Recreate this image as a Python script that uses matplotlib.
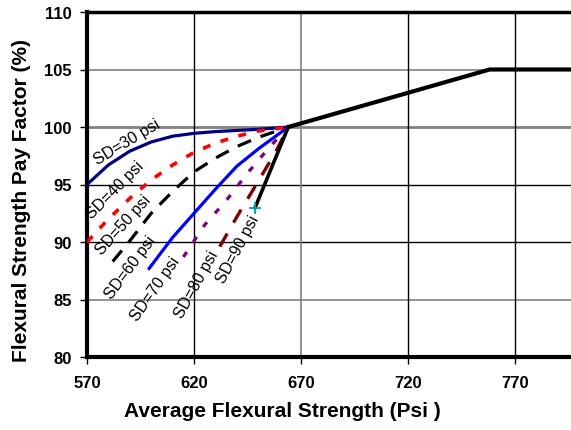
import matplotlib
matplotlib.use("Agg")
import matplotlib.pyplot as plt

plt.rcParams['font.family'] = ['Liberation Sans', 'DejaVu Sans']

# ---- data ----
sd30_x = [570, 580, 590, 600, 610, 620, 630, 640, 650, 664]
sd30_y = [95.0, 96.7, 97.9, 98.7, 99.2, 99.45, 99.6, 99.7, 99.8, 100.0]

sd40_x = [570, 580, 590, 600, 610, 620, 630, 640, 650, 664]
sd40_y = [90.0, 92.0, 93.8, 95.4, 96.7, 97.8, 98.6, 99.2, 99.65, 100.0]

sd50_x = [582, 590, 600, 610, 620, 630, 640, 650, 664]
sd50_y = [88.3, 90.1, 92.5, 94.4, 96.1, 97.3, 98.3, 99.1, 100.0]

sd60_x = [599, 610, 620, 630, 640, 650, 664]
sd60_y = [87.7, 90.4, 92.5, 94.6, 96.6, 98.1, 100.0]

sd70_x = [615, 625, 635, 645, 655, 664]
sd70_y = [88.7, 91.5, 93.6, 96.0, 98.2, 100.0]

sd80_x = [632, 640, 650, 658, 664]
sd80_y = [89.6, 92.2, 95.3, 97.8, 100.0]

sd90_x = [648.5, 664]
sd90_y = [93.0, 100.0]

main_x = [664, 758, 796]
main_y = [100.0, 105.0, 105.0]

x_ticks = [570, 620, 670, 720, 770]
y_ticks = [80, 85, 90, 95, 100, 105, 110]

sd_labels = ["SD=30 psi", "SD=40 psi", "SD=50 psi", "SD=60 psi", "SD=70 psi", "SD=80 psi", "SD=90 psi"]
label_x = [588.7, 583.1, 586.8, 590.1, 601.8, 620.9, 640.6]
label_y = [98.7, 94.6, 91.5, 87.8, 86.0, 86.4, 89.4]
label_rot = [31, 45, 48, 53, 55, 61, 62]

# ---- figure ----
fig = plt.figure(figsize=(5.71, 4.31), dpi=100)
ax = fig.add_axes([87/571, 1 - 358/431, 1 - 87/571, (358 - 13)/431])
ax.set_xlim(570, 796)
ax.set_ylim(80, 110)

# grid lines as in reference
h_grid = {85: ('#808080', 1.2), 90: ('black', 1.0), 95: ('black', 1.0), 100: ('#808080', 2.0), 105: ('#808080', 1.2)}
for yv, (c, lw) in h_grid.items():
    ax.axhline(yv, color=c, lw=lw, zorder=1)
v_grid = {620: ('black', 1.0), 670: ('#808080', 1.2), 720: ('black', 1.0), 770: ('black', 1.0)}
for xv, (c, lw) in v_grid.items():
    ax.axvline(xv, color=c, lw=lw, zorder=1)

ax.plot(sd30_x, sd30_y, color='#000080', lw=2.3, zorder=3)
ax.plot(sd40_x, sd40_y, color='#ff0000', lw=2.6, dashes=(2.2, 3.0), zorder=3)
ax.plot(sd50_x, sd50_y, color='black', lw=2.3, dashes=(4.5, 3.2), zorder=3)
ax.plot(sd60_x, sd60_y, color='#0000ff', lw=2.3, zorder=3)
ax.plot(sd70_x, sd70_y, color='#800080', lw=2.4, dashes=(1.8, 3.6), zorder=3)
ax.plot(sd80_x, sd80_y, color='#800000', lw=2.4, dashes=(4.5, 3.8), zorder=3)
ax.plot(sd90_x, sd90_y, color='black', lw=2.6, zorder=4)
ax.plot(sd90_x[:1], sd90_y[:1], marker='+', color='#00a0a0', ms=9, mew=1.3, ls='none', zorder=5)
ax.plot(main_x, main_y, color='black', lw=3, zorder=4, solid_capstyle='butt')

for t, xv, yv, r in zip(sd_labels, label_x, label_y, label_rot):
    ax.text(xv, yv, t, rotation=r, rotation_mode='anchor', ha='center', va='center',
            fontsize=11.5, zorder=6)

ax.set_xticks(x_ticks)
ax.set_yticks(y_ticks)
ax.set_xticklabels([str(v) for v in x_ticks], fontsize=12, fontweight='bold')
ax.set_yticklabels([str(v) for v in y_ticks], fontsize=12, fontweight='bold')
ax.tick_params(axis='both', direction='out', length=5, width=1, pad=6)
ax.tick_params(axis='x', pad=8)

for s in ['left', 'bottom']:
    ax.spines[s].set_linewidth(3)
ax.spines['top'].set_linewidth(2.5)
ax.spines['right'].set_visible(False)

ax.set_xlabel("Average Flexural Strength (Psi )", fontsize=15, fontweight='bold')
ax.set_ylabel("Flexural Strength Pay Factor (%)", fontsize=15, fontweight='bold')
ax.xaxis.set_label_coords((282 - 87) / 484, (358 - 402) / 345)
ax.yaxis.set_label_coords((31 - 87) / 484, (358 - 200) / 345)

fig.savefig("out.png", dpi=100)
